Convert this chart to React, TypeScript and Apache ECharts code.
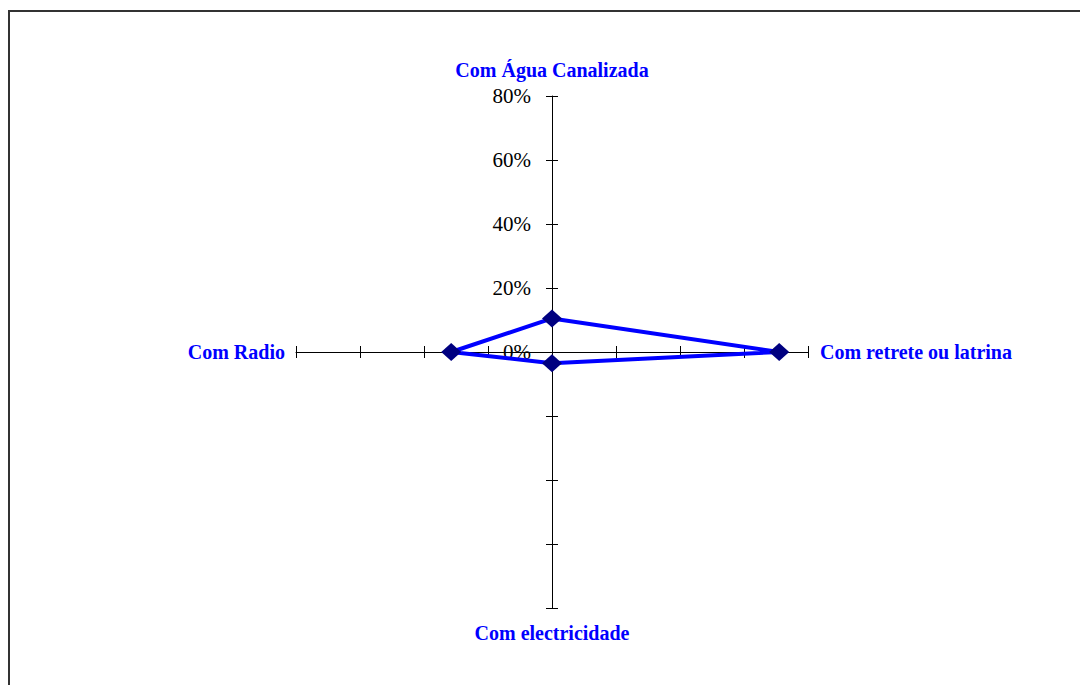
import React, { useEffect, useRef } from "react";
import * as echarts from "echarts";

const indicatorNames = [
  "Com Água Canalizada",
  "Com Radio",
  "Com electricidade",
  "Com retrete ou latrina",
];
const nameGaps = [16, 11, 15, 12];
const seriesValues = [10.5, 31.5, 3.5, 71];
const axisMin = 0;
const axisMax = 80;
const splitCount = 4;

const serif = "'Liberation Serif', 'Times New Roman', serif";

export default function App() {
  const ref = useRef<HTMLDivElement>(null);
  useEffect(() => {
    const chart = echarts.init(ref.current!, null, { renderer: "svg" });
    const common = {
      center: [552, 352],
      radius: 256,
      startAngle: 90,
      splitNumber: splitCount,
      shape: "polygon",
      splitLine: { show: false },
      splitArea: { show: false },
    };
    const mainIndicators = indicatorNames.map((name, i) => ({
      name,
      min: axisMin,
      max: axisMax,
      nameGap: nameGaps[i],
      ...(i === 0 ? { axisLabel: { show: true } } : {}),
    }));
    const tickIndicators = indicatorNames.map((name) => ({
      name,
      min: axisMin,
      max: axisMax,
    }));
    chart.setOption({
      animation: false,
      graphic: [
        {
          type: "line",
          shape: { x1: 8, y1: 11, x2: 1080, y2: 11 },
          style: { stroke: "#333", lineWidth: 2 },
          silent: true,
        },
        {
          type: "line",
          shape: { x1: 9, y1: 10, x2: 9, y2: 685 },
          style: { stroke: "#333", lineWidth: 2 },
          silent: true,
        },
      ],
      radar: [
        {
          ...common,
          indicator: mainIndicators,
          nameGap: 12,
          axisName: {
            color: "#0000ff",
            fontFamily: serif,
            fontWeight: "bold",
            fontSize: 20,
          },
          axisLine: { show: true, lineStyle: { color: "#000", width: 1 } },
          axisTick: {
            show: true,
            length: 6,
            lineStyle: { color: "#000", width: 1 },
          },
          axisLabel: {
            show: false,
            formatter: "{value}%",
            color: "#000",
            fontFamily: serif,
            fontSize: 21,
            margin: 21,
          },
        },
        {
          ...common,
          indicator: tickIndicators,
          axisName: { show: false },
          axisLine: { show: false },
          axisTick: {
            show: true,
            length: -6,
            lineStyle: { color: "#000", width: 1 },
          },
          axisLabel: { show: false },
        },
      ],
      series: [
        {
          type: "radar",
          radarIndex: 0,
          symbol: "diamond",
          symbolSize: [20, 18],
          lineStyle: { color: "#0000ff", width: 4 },
          itemStyle: { color: "#000080" },
          data: [{ value: seriesValues, name: "Valores" }],
        },
      ],
    });
    return () => chart.dispose();
  }, []);
  return (
    <div
      ref={ref}
      style={{
        position: "fixed",
        left: 0,
        top: 0,
        width: 1080,
        height: 685,
        background: "#fff",
      }}
    />
  );
}
